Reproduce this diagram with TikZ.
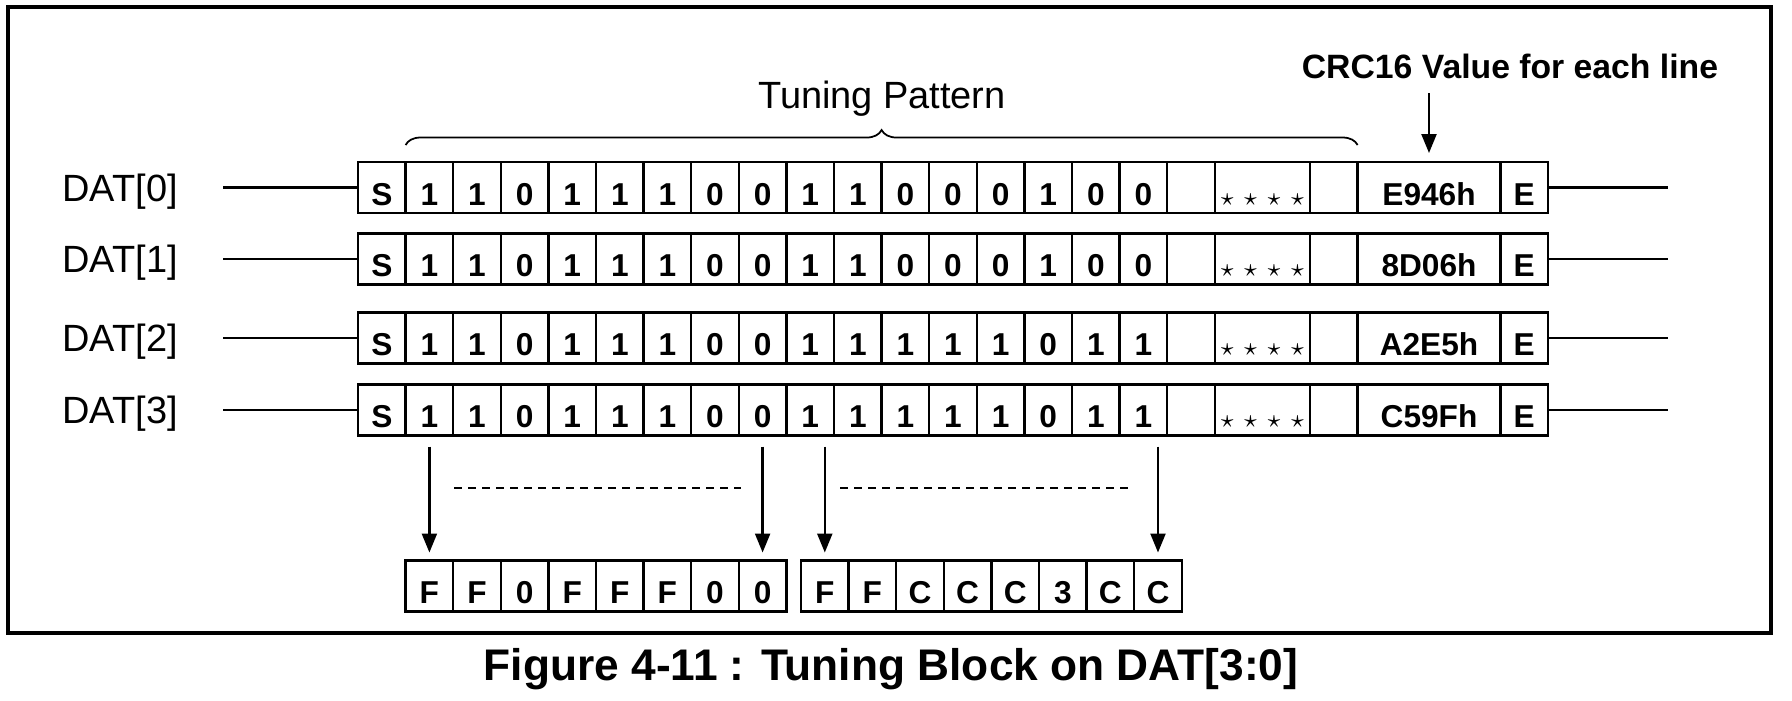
\documentclass[tikz,border=0pt]{standalone}
\usepackage{fontspec}
\setmainfont{Liberation Sans}
\usetikzlibrary{positioning,decorations.pathreplacing,arrows.meta}

\begin{document}
\begin{tikzpicture}[
  cell/.style={draw,line width=0.65pt,minimum width=4.76mm,minimum height=5.1mm,
               inner sep=0pt,outer sep=0pt,text height=3.5mm,text depth=0pt,
               font=\bfseries\fontsize{9}{11}\selectfont},
  wide/.style={cell,minimum width=#1*4.76mm},
  lbl/.style={font=\fontsize{10.8}{13}\selectfont,inner sep=0pt},
  wire/.style={line width=0.65pt},
  arr/.style={line width=0.65pt,-{Triangle[length=1.9mm,width=1.5mm]}}]

  \useasboundingbox (0,0) rectangle (17.92,-7);
  \draw[line width=1pt] (0.08,-0.07) rectangle (17.71,-6.33);

  % the four data lines
  \foreach \r/\y/\crc/\bits in {
      0/-1.875/E946h/{1,1,0,1,1,1,0,0,1,1,0,0,0,1,0,0},
      1/-2.59/8D06h/{1,1,0,1,1,1,0,0,1,1,0,0,0,1,0,0},
      2/-3.38/A2E5h/{1,1,0,1,1,1,0,0,1,1,1,1,1,0,1,1},
      3/-4.10/C59Fh/{1,1,0,1,1,1,0,0,1,1,1,1,1,0,1,1}}{
    \node[lbl,anchor=base] (dat\r) at (1.20,\y-0.135) {DAT[\r]};
    \node[cell,anchor=west] (c\r-0) at (3.58,\y) {S};
    \foreach \b [count=\i, remember=\i as \j (initially 0)] in \bits
      \node[cell,right=0pt of c\r-\j] (c\r-\i) {\b};
    \node[cell,right=0pt of c\r-16] (c\r-x1) {};
    \node[wide=2,right=0pt of c\r-x1] (c\r-st)
      {\fontsize{7.5}{9}\selectfont$\star$\hspace{0.9mm}$\star$\hspace{0.9mm}$\star$\hspace{0.9mm}$\star$};
    \node[cell,right=0pt of c\r-st] (c\r-x2) {};
    \node[wide=3,right=0pt of c\r-x2] (c\r-crc) {\crc\hspace{2mm}};
    \node[cell,right=0pt of c\r-crc] (c\r-e) {E};
    \coordinate (w\r) at (2.23,\y);
    \coordinate (e\r) at (16.68,\y);
    \draw[wire] (w\r) -- (c\r-0.west);
    \draw[wire] (c\r-e.east) -- (e\r);
  }

  \draw[decorate,decoration={brace,amplitude=1.5mm},line width=0.5pt]
    ([yshift=1.7mm]c0-1.north west) -- ([yshift=1.7mm]c0-crc.north west);
  \node[lbl,anchor=base] (tp) at (8.82,-1.08) {Tuning Pattern};

  \node[font=\bfseries\fontsize{9.6}{12}\selectfont,inner sep=0pt,anchor=base] (crcl)
    at (15.10,-0.78) {CRC16 Value for each line};
  \draw[arr,shorten <=1.4mm,shorten >=0.9mm] (crcl.south -| c0-crc.north) -- (c0-crc.north);

  % resulting bytes
  \node[cell,anchor=west] (lo1) at (4.056,-5.86) {F};
  \foreach \v [count=\i from 2, remember=\i as \j (initially 1)] in {F,0,F,F,F,0,0}
    \node[cell,right=0pt of lo\j] (lo\i) {\v};
  \node[cell,anchor=west] (hi1) at (8.01,-5.86) {F};
  \foreach \v [count=\i from 2, remember=\i as \j (initially 1)] in {F,C,C,C,3,C,C}
    \node[cell,right=0pt of hi\j] (hi\i) {\v};

  \foreach \t in {lo1,lo8,hi1,hi8}
    \draw[arr,shorten <=1.1mm,shorten >=0.8mm] (\t.north |- c3-0.south) -- (\t.north);

  \coordinate (dl1) at (4.54,-4.88);
  \coordinate (dl2) at (7.41,-4.88);
  \coordinate (dr1) at (8.40,-4.88);
  \coordinate (dr2) at (11.28,-4.88);
  \draw[line width=0.45pt,dash pattern=on 0.8mm off 0.6mm] (dl1) -- (dl2) (dr1) -- (dr2);

  \node[font=\bfseries\fontsize{12.6}{15}\selectfont,inner sep=0pt,anchor=base] (cap)
    at (8.91,-6.80) {Figure 4-11 : Tuning Block on DAT[3:0]};
\end{tikzpicture}
\end{document}
